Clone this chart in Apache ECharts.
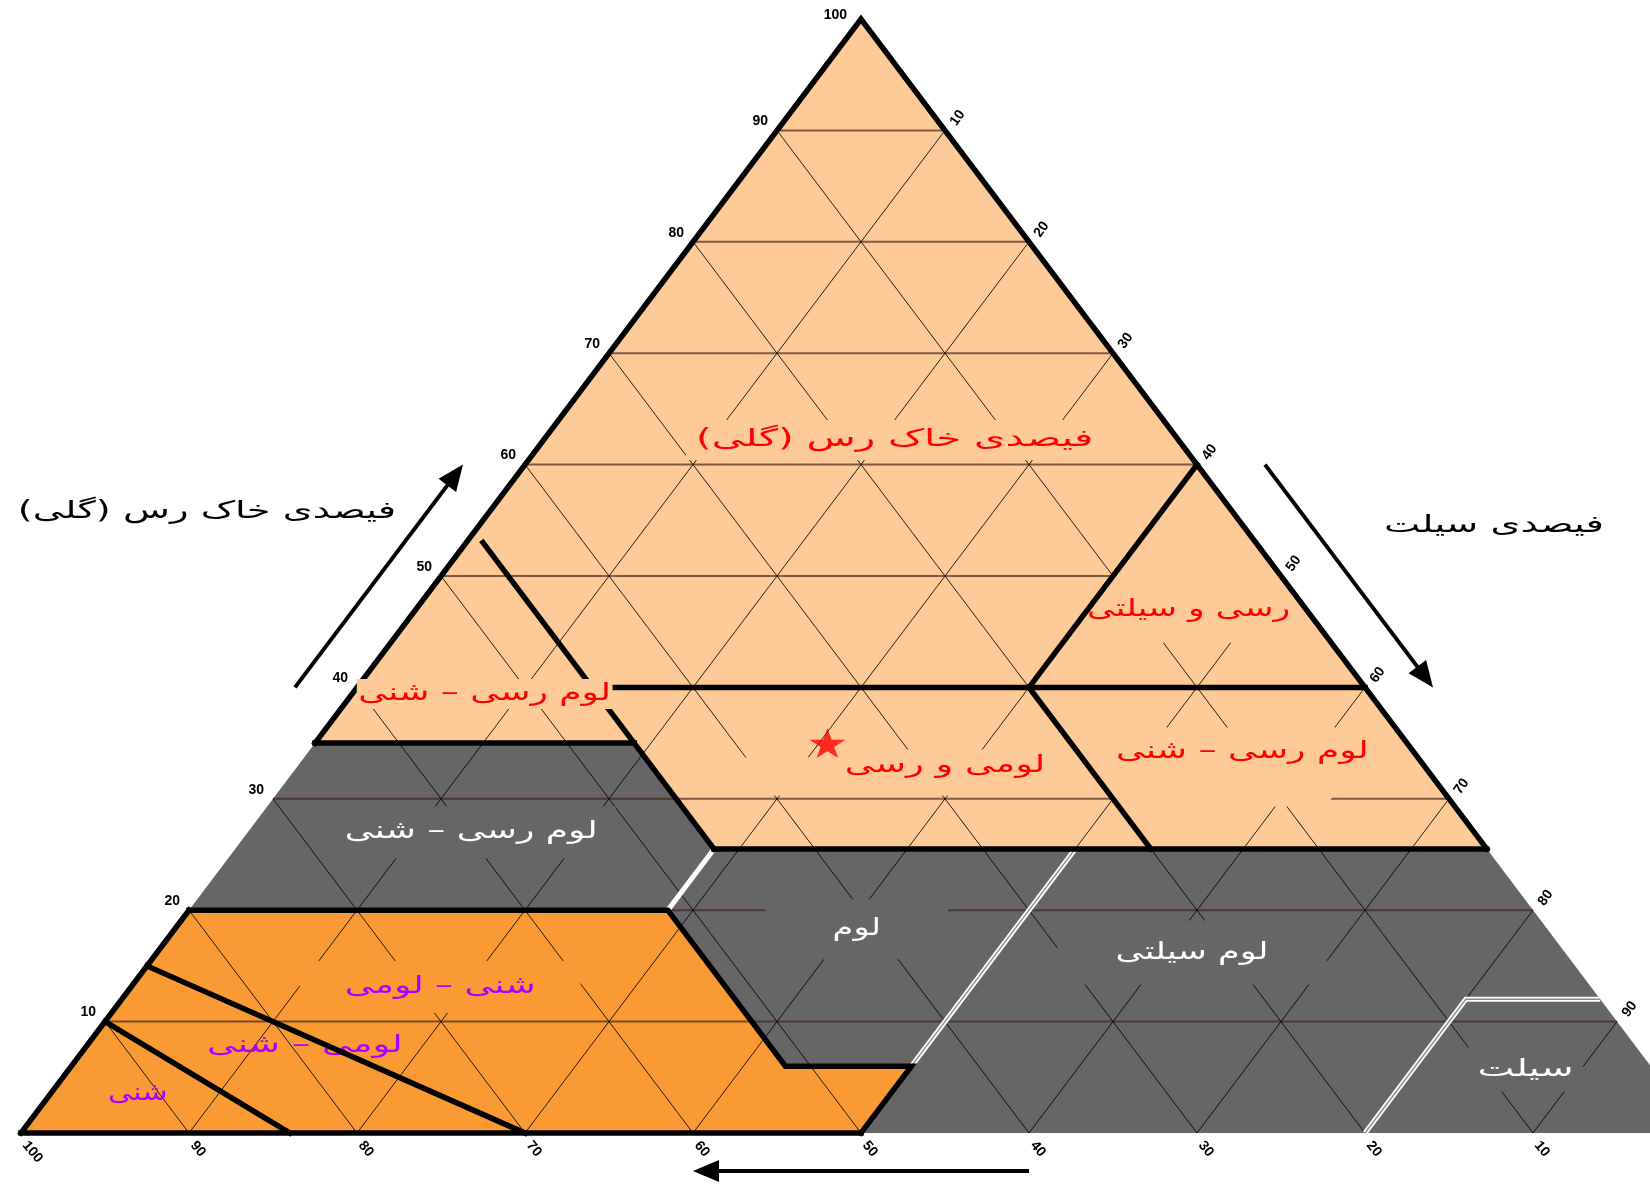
<!DOCTYPE html>
<html>
<head>
<meta charset="utf-8">
<title>مثلث بافت خاک</title>
<script src="https://cdn.jsdelivr.net/npm/echarts@6/dist/echarts.min.js"></script>
<style>
  html, body { margin: 0; padding: 0; background: #ffffff; }
  #chart { width: 1650px; height: 1186px; }
</style>
</head>
<body>
<div id="chart"></div>
<script>
// ---- Axis ticks (percent) ----
const clayTicks = [10, 20, 30, 40, 50, 60, 70, 80, 90, 100];
const siltTicks = [10, 20, 30, 40, 50, 60, 70, 80, 90];
const sandTicks = [10, 20, 30, 40, 50, 60, 70, 80, 90, 100];
const gridSteps = [10, 20, 30, 40, 50, 60, 70, 80, 90];

// ---- Texture areas; every vertex is [clay %, silt %], sand is the remainder ----
const wholeTriangle = [[100, 0], [0, 0], [0, 100]];
const clayRichArea = [[100, 0], [35, 0], [35, 19], [25.5, 28.5], [25.5, 74.5]];
const sandyArea = [[0, 0], [20, 0], [20, 28.5], [6, 42.5], [6, 50], [0, 50]];

// ---- Class boundaries, [clay %, silt %] ----
const blackBorders = [
  [[0, 0], [20, 0]],
  [[35, 0], [100, 0], [25.5, 74.5]],
  [[0, 0], [0, 50]],
  [[20, 0], [20, 28.5], [6, 42.5], [6, 50], [0, 50]],
  [[35, 0], [35, 19]],
  [[53, 1], [25.5, 28.5]],
  [[40, 14], [40, 60]],
  [[60, 40], [40, 40], [25.5, 54.5]],
  [[25.5, 28.5], [25.5, 74.5]],
  [[15, 0], [0, 30]],
  [[10, 0], [0, 16]]
];
const whiteBorders = [[[20, 28.5], [25.5, 28.5]]];
const whiteDoubleBorders = [
  [[6, 50], [25.5, 50]],
  [[0, 80], [12, 80], [12, 88]]
];

// ---- Parts of the class areas where the guide grid is left out, [clay %, silt %] ----
const gridGaps = [
  { zone: 'clayRich', pts: [[44, 40], [44, 56], [60, 40]] },
  { zone: 'clayRich', pts: [[33.7, 20.3], [33.7, 46.3], [30.3, 49.7], [30.3, 23.7]] },
  { zone: 'clayRich', pts: [[36.4, 43.6], [36.4, 63.6], [30.4, 69.6], [30.4, 63], [29.3, 63], [29.3, 50.7]] }
];

// ---- Texture class names and where they sit, [clay %, silt %] ----
const classNames = [
  'فیصدی خاک رس (گلی)', 'رسی و سیلتی', 'لوم رسی – شنی', 'لومی و رسی', 'لوم رسی – شنی',
  'لوم رسی – شنی', 'لوم', 'لوم سیلتی', 'سیلت',
  'شنی – لومی', 'لومی – شنی', 'شنی'
];
const classCentres = [
  [62.2, 20.9], [47, 46], [39.4, 7.9], [33, 38.5], [34.2, 55.6],
  [27, 13.3], [18.3, 40.6], [16.2, 61.6], [5.7, 86.7],
  [13.1, 18.4], [7.8, 13], [3.5, 5.2]
];
const classZone = [
  'clayRich', 'clayRich', 'clayRich', 'clayRich', 'clayRich',
  'medium', 'medium', 'medium', 'medium',
  'sandy', 'sandy', 'sandy'
];

// ---- Sample soil, [clay %, silt %] ----
const samplePoint = [35, 30.5];

// ---- Axis titles ----
const clayTitle = 'فیصدی خاک رس (گلی)';
const siltTitle = 'فیصدی سیلت';

// ================= drawing =================
const PALETTE = {
  gray: '#666666', peach: '#fecb98', orange: '#fa9a35',
  red: '#ff0000', white: '#ffffff', purple: '#a800ff', ink: '#000000'
};
const zoneFill = { clayRich: PALETTE.peach, medium: PALETTE.gray, sandy: PALETTE.orange };
const zoneText = { clayRich: PALETTE.red, medium: PALETTE.white, sandy: PALETTE.purple };
const FA_FONT = '"DejaVu Sans", "Noto Sans", sans-serif';
const NUM_FONT = '"Liberation Sans", Arial, sans-serif';
// horizontal stretch of each class name (the lettering is drawn wide)
const labelStretch = [1.68, 1.44, 1.5, 1.53, 1.5, 1.5, 1.4, 1.46, 1.63, 1.5, 1.54, 1.26];
// blank margin kept around each class name, [vertical, horizontal]
const labelMargin = [[8, 6], [4, 2], [3, 1], [4, 4], [4, 4], [14, 12], [18, 48], [20, 40], [10, 6], [14, 30], 0, 0];
// names drawn over the class boundaries instead of under them
const labelOnTop = [false, false, true, false, false, false, false, false, false, false, false, false];

// one composition unit on the base spans 16.8 px; the base runs past the right edge
const UNIT_PX = 16.8;
const PLOT_LEFT = 21;

// ternary -> cartesian: x = silt + clay / 2, y = clay
const toXY = p => [p[1] + p[0] / 2, p[0]];
const at = (api, p) => api.coord(toXY(p));
const rtl = s => '\u202B' + s + '\u202C';

function edgePoint(axis, v) {
  if (axis === 'clay') return [v, 0];
  if (axis === 'silt') return [100 - v, v];
  return [0, 100 - v];
}

function customLayer(id, items, z, draw) {
  return {
    type: 'custom', id, coordinateSystem: 'cartesian2d', silent: true, clip: false,
    animation: false, z,
    data: items.map(() => [50, 50]),
    renderItem: (params, api) => draw(items[params.dataIndex], api)
  };
}

const zones = [
  { pts: wholeTriangle, zone: 'medium' },
  { pts: clayRichArea, zone: 'clayRich' },
  { pts: sandyArea, zone: 'sandy' }
];

const gridSegments = [];
gridSteps.forEach(k => {
  gridSegments.push({ kind: 'h', pts: [[k, 0], [k, 100 - k]] });
  gridSegments.push({ kind: 'd', pts: [[0, k], [100 - k, k]] });
  gridSegments.push({ kind: 'd', pts: [[0, 100 - k], [100 - k, 0]] });
});

const tickItems = [];
clayTicks.forEach(v => tickItems.push({ axis: 'clay', v }));
siltTicks.forEach(v => tickItems.push({ axis: 'silt', v }));
sandTicks.forEach(v => tickItems.push({ axis: 'sand', v }));

const borderItems = [];
whiteDoubleBorders.forEach(pts => borderItems.push({ pts, kind: 'double' }));
whiteBorders.forEach(pts => borderItems.push({ pts, kind: 'white' }));
blackBorders.forEach(pts => borderItems.push({ pts, kind: 'black' }));

const labelItems = classNames.map((name, i) => ({ i, name, pos: classCentres[i], zone: classZone[i] }));

const arrowItems = [
  { axis: 'clay', from: 40, to: 60, shift: [-62, 0] },
  { axis: 'silt', from: 40, to: 60, shift: [68, 0] },
  { axis: 'sand', from: 40, to: 60, shift: [0, 38] }
];

const centred = { align: 'center', textAlign: 'center', verticalAlign: 'middle', textVerticalAlign: 'middle' };

function drawClassName(it, api) {
  const [x, y] = at(api, it.pos);
  const m = labelMargin[it.i];
  return { type: 'text', x, y, scaleX: labelStretch[it.i], scaleY: 1,
    style: Object.assign({
      text: rtl(it.name), fill: zoneText[it.zone], font: '24px ' + FA_FONT,
      backgroundColor: m ? zoneFill[it.zone] : null,
      padding: m ? m : 0
    }, centred) };
}

const series = [
  customLayer('zones', zones, 1, (it, api) => ({
    type: 'polygon',
    shape: { points: it.pts.map(p => at(api, p)) },
    style: { fill: zoneFill[it.zone], stroke: null }
  })),
  customLayer('grid', gridSegments, 2, (it, api) => ({
    type: 'polyline',
    shape: { points: it.pts.map(p => at(api, p)) },
    style: it.kind === 'h'
      ? { stroke: 'rgba(60,30,20,0.66)', lineWidth: 2, fill: null }
      : { stroke: 'rgba(0,0,0,0.85)', lineWidth: 1, fill: null }
  })),
  customLayer('gridGaps', gridGaps, 3, (it, api) => ({
    type: 'polygon',
    shape: { points: it.pts.map(p => at(api, p)) },
    style: { fill: zoneFill[it.zone], stroke: null }
  })),
  customLayer('classLabels', labelItems.filter(it => !labelOnTop[it.i]), 4, drawClassName),
  customLayer('borders', borderItems, 5, (it, api) => {
    const points = it.pts.map(p => at(api, p));
    if (it.kind === 'black') {
      return { type: 'polyline', shape: { points },
        style: { stroke: PALETTE.ink, lineWidth: 5.5, fill: null, lineJoin: 'miter', lineCap: 'square' } };
    }
    if (it.kind === 'white') {
      return { type: 'polyline', shape: { points },
        style: { stroke: PALETTE.white, lineWidth: 5, fill: null, lineJoin: 'miter' } };
    }
    return { type: 'group', children: [
      { type: 'polyline', shape: { points }, style: { stroke: PALETTE.white, lineWidth: 5, fill: null, lineJoin: 'miter' } },
      { type: 'polyline', shape: { points }, style: { stroke: '#8a8a8a', lineWidth: 1.4, fill: null, lineJoin: 'miter' } }
    ] };
  }),
  customLayer('classLabelsTop', labelItems.filter(it => labelOnTop[it.i]), 6, drawClassName),
  customLayer('ticks', tickItems, 7, (it, api) => {
    const [x, y] = at(api, edgePoint(it.axis, it.v));
    const base = { text: String(it.v), fill: PALETTE.ink, font: 'bold 14px ' + NUM_FONT };
    const left = { align: 'left', textAlign: 'left', verticalAlign: 'middle', textVerticalAlign: 'middle' };
    if (it.axis === 'clay') {
      return { type: 'text', x: x - (it.v === 100 ? 14 : 9), y: y - (it.v === 100 ? 4 : 9),
        style: Object.assign(base, { align: 'right', textAlign: 'right', verticalAlign: 'middle', textVerticalAlign: 'middle' }) };
    }
    if (it.axis === 'silt') {
      return { type: 'text', x: x + 8, y: y - 6, rotation: 55 * Math.PI / 180,
        style: Object.assign(base, left) };
    }
    return { type: 'text', x: x + 4, y: y + 10, rotation: -50 * Math.PI / 180,
      style: Object.assign(base, left) };
  }),
  customLayer('arrows', arrowItems, 8, (it, api) => {
    const s = at(api, edgePoint(it.axis, it.from));
    const e = at(api, edgePoint(it.axis, it.to));
    const sx = s[0] + it.shift[0], sy = s[1] + it.shift[1];
    const ex = e[0] + it.shift[0], ey = e[1] + it.shift[1];
    const len = Math.hypot(ex - sx, ey - sy);
    const dx = (ex - sx) / len, dy = (ey - sy) / len;
    const nx = -dy, ny = dx, L = 26, w = 11;
    return { type: 'group', children: [
      { type: 'line', shape: { x1: sx, y1: sy, x2: ex - dx * L * 0.7, y2: ey - dy * L * 0.7 },
        style: { stroke: PALETTE.ink, lineWidth: 4 } },
      { type: 'polygon', shape: { points: [[ex, ey],
          [ex - dx * L + nx * w, ey - dy * L + ny * w],
          [ex - dx * L - nx * w, ey - dy * L - ny * w]] },
        style: { fill: PALETTE.ink } }
    ] };
  }),
  {
    type: 'scatter', id: 'sample', silent: true, animation: false, z: 9,
    data: [toXY(samplePoint)],
    symbol: 'path://M50,0 L61,35 L98,35 L68,57 L79,91 L50,70 L21,91 L32,57 L2,35 L39,35 Z',
    symbolSize: [36, 30],
    itemStyle: { color: PALETTE.red }
  }
];

const chart = echarts.init(document.getElementById('chart'), null, { width: 1650, height: 1186 });
chart.setOption({
  animation: false,
  backgroundColor: '#ffffff',
  grid: { left: PLOT_LEFT, right: 0, top: 19, bottom: 53, containLabel: false },
  xAxis: { type: 'value', min: 0, max: (1650 - PLOT_LEFT) / UNIT_PX, show: false },
  yAxis: { type: 'value', min: 0, max: 100, show: false },
  graphic: [
    { type: 'text', x: 207, y: 512, scaleX: 1.6, scaleY: 1, silent: true,
      style: Object.assign({ text: rtl(clayTitle), fill: PALETTE.ink, font: '24px ' + FA_FONT }, centred) },
    { type: 'text', x: 1494, y: 526, scaleX: 1.6, scaleY: 1, silent: true,
      style: Object.assign({ text: rtl(siltTitle), fill: PALETTE.ink, font: '24px ' + FA_FONT }, centred) }
  ],
  series
});
</script>
</body>
</html>
